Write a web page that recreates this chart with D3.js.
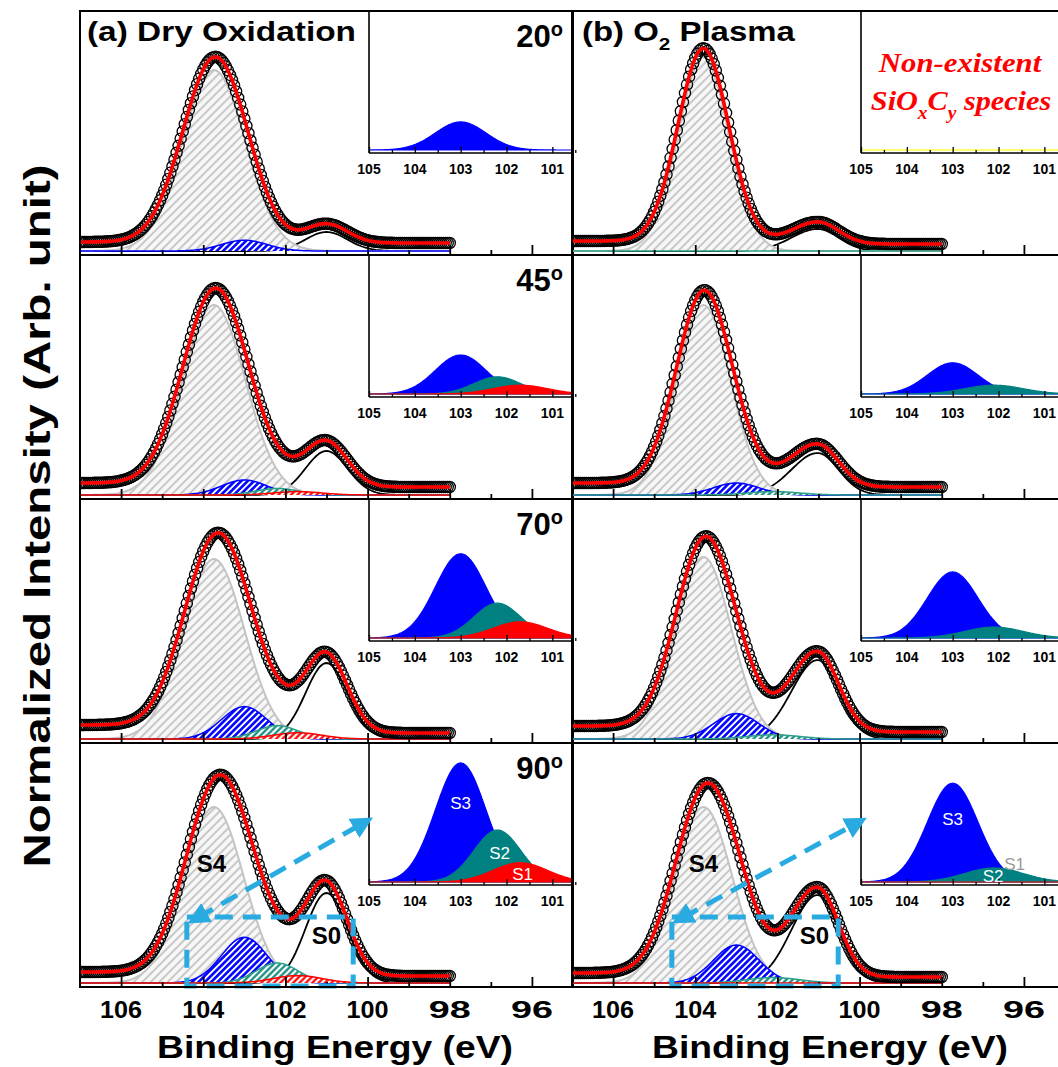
<!DOCTYPE html>
<html>
<head>
<meta charset="utf-8">
<script src="https://cdn.jsdelivr.net/npm/d3@7"></script>
<style>
  html, body { margin: 0; padding: 0; background: #fff; }
  svg { display: block; }
</style>
</head>
<body>
<svg id="chart" width="1058" height="1067"></svg>
<script>
// ---- Si 2p core-level spectra: dry oxidation vs. O2 plasma, four take-off angles ----
const angles = ['20', '45', '70', '90'];
const mainTicks = [106, 105, 104, 103, 102, 101, 100, 99, 98, 97, 96];
const mainTickLabels = [106, 104, 102, 100, 98, 96];
const insetTickLabels = [105, 104, 103, 102, 101];
const insetMinorTicks = [104.5, 103.5, 102.5, 101.5, 100.5];

// fitted peak positions (eV), [dry oxidation, O2 plasma]
const centerS4 = [103.74, 103.8];
const centerS3 = [103.0, 103.0];
const centerS2 = [102.2, 102.1];
const centerS1 = [101.7, 101.7];
const centerS0 = [101.0, 101.02];
// peak widths (FWHM, eV); S0 is asymmetric (high / low binding-energy side)
const fwhmS3 = [1.3, 1.3];
const fwhmS2 = [1.2, 1.5];
const fwhmS1 = [1.4, 1.4];
const fwhmS0High = [1.2, 1.5];
const fwhmS0Low = [1.2, 1.2];

// dry oxidation, rows 20 / 45 / 70 / 90 degrees (null = component absent)
const dryS4 = [0.905, 0.95, 0.90, 0.88];
const dryW4 = [1.8, 1.8, 1.75, 1.7];
const dryS3 = [0.054, 0.075, 0.162, 0.229];
const dryS2 = [null, 0.033, 0.067, 0.10];
const dryS1 = [null, 0.017, 0.031, 0.037];
const dryS0 = [0.095, 0.22, 0.38, 0.45];
const dryBgHigh = [0.045, 0.06, 0.07, 0.055];
const dryBgLow = [0.04, 0.04, 0.03, 0.035];

// O2 plasma, rows 20 / 45 / 70 / 90 degrees
const plasmaS4 = [0.97, 0.95, 0.91, 0.88];
const plasmaW4 = [1.45, 1.55, 1.6, 1.65];
const plasmaS3 = [null, 0.06, 0.127, 0.19];
const plasmaS2 = [0, 0.017, 0.021, 0.027];
const plasmaS1 = [null, null, null, 0];
const plasmaS0 = [0.11, 0.21, 0.395, 0.44];
const plasmaBgHigh = [0.05, 0.06, 0.065, 0.05];
const plasmaBgLow = [0.035, 0.04, 0.035, 0.03];

// component labels in the 90 degree panels: [energy, intensity]
const s4LabelPos = [[103.8, 0.6], [103.8, 0.6]];
const s0LabelPos = [[101.0, 0.24], [101.1, 0.24]];
const insetLabels = [
  [{t: 'S3', e: 103.0, v: 0.152, c: '#ffffff'}, {t: 'S2', e: 102.15, v: 0.056, c: '#ffffff'}, {t: 'S1', e: 101.65, v: 0.015, c: '#ffffff'}],
  [{t: 'S3', e: 103.0, v: 0.121, c: '#ffffff'}, {t: 'S2', e: 102.12, v: 0.012, c: '#ffffff'}, {t: 'S1', e: 101.65, v: 0.034, c: '#9a9a9a'}]
];
// zoom box (eV, intensity) and arrow ends in the 90 degree panels
const zoomBoxE = [[104.4, 100.35], [104.57, 100.52]];
const zoomBoxV = [-0.015, 0.33];
const arrowFrom = [[104.15, 0.325], [104.33, 0.325]];
const arrowTo = [[100.1, 0.8], [100.06, 0.8]];

// ---- layout ----
const svg = d3.select('#chart');
const FONT = "'Liberation Sans', Arial, Helvetica, sans-serif";
const colX = [80, 572];
const panelW = 493;
const rowTop = [11, 255, 499, 743];
const rowH = 244;
const insetOffset = 289;
const insetH = 142;

const columns = [
  {S4: dryS4, W4: dryW4, S3: dryS3, S2: dryS2, S1: dryS1, S0: dryS0, hi: dryBgHigh, lo: dryBgLow},
  {S4: plasmaS4, W4: plasmaW4, S3: plasmaS3, S2: plasmaS2, S1: plasmaS1, S0: plasmaS0, hi: plasmaBgHigh, lo: plasmaBgLow}
];

// Gaussian line shape; optional different width on the low binding-energy side
const gauss = (e, c, h, w, wLow) => {
  const ww = (wLow && e < c) ? wLow : w;
  return h * Math.exp(-4 * Math.LN2 * (e - c) * (e - c) / (ww * ww));
};

// acquisition grid 98 -> 107 eV, 0.05 eV step
const energies = d3.range(0, 181).map(i => 98 + i * 0.05);
const insetEnergies = d3.range(0, 241).map(i => 100.3 + i * 0.02);

function components(c, r) {
  const col = columns[c];
  return {
    S4: col.S4[r] == null ? null : {c: centerS4[c], h: col.S4[r], w: col.W4[r]},
    S3: col.S3[r] == null ? null : {c: centerS3[c], h: col.S3[r], w: fwhmS3[c]},
    S2: col.S2[r] == null ? null : {c: centerS2[c], h: col.S2[r], w: fwhmS2[c]},
    S1: col.S1[r] == null ? null : {c: centerS1[c], h: col.S1[r], w: fwhmS1[c]},
    S0: col.S0[r] == null ? null : {c: centerS0[c], h: col.S0[r], w: fwhmS0High[c], wLow: fwhmS0Low[c]}
  };
}
const evalComp = (p, e) => p ? gauss(e, p.c, p.h, p.w, p.wLow) : 0;

function spectrum(c, r) {
  const comp = components(c, r);
  const names = ['S4', 'S3', 'S2', 'S1', 'S0'];
  const tot = energies.map(e => d3.sum(names, n => evalComp(comp[n], e)));
  // Shirley-type background: rises toward high binding energy with the integrated peak area
  const cum = d3.cumsum(tot);
  const last = cum[cum.length - 1];
  const hi = columns[c].hi[r], lo = columns[c].lo[r];
  return energies.map((e, i) => {
    const bg = lo + (hi - lo) * cum[i] / last;
    return {
      e, bg,
      fit: bg + tot[i],
      S4: evalComp(comp.S4, e), S3: evalComp(comp.S3, e),
      S2: evalComp(comp.S2, e), S1: evalComp(comp.S1, e),
      S0: evalComp(comp.S0, e)
    };
  });
}

// ---- patterns ----
const defs = svg.append('defs');
function hatch(id, color, gap, width, angle, bg) {
  const p = defs.append('pattern').attr('id', id)
    .attr('patternUnits', 'userSpaceOnUse')
    .attr('width', gap).attr('height', gap)
    .attr('patternTransform', `rotate(${angle})`);
  p.append('rect').attr('width', gap).attr('height', gap).attr('fill', bg);
  p.append('line').attr('x1', gap / 2).attr('y1', 0).attr('x2', gap / 2).attr('y2', gap)
    .attr('stroke', color).attr('stroke-width', width);
}
hatch('hGray', '#a9a9a9', 6, 1.2, 45, '#f7f7f7');
hatch('hBlue', '#0000ff', 4.5, 2.6, 45, '#ffffff');
hatch('hTeal', '#0e8a7c', 4.5, 2.2, 45, '#ffffff');
hatch('hRed', '#ff0000', 4.5, 2.2, 45, '#ffffff');

defs.append('marker').attr('id', 'arrowHead')
  .attr('viewBox', '0 0 10 10').attr('refX', 5).attr('refY', 5)
  .attr('markerUnits', 'userSpaceOnUse').attr('markerWidth', 22).attr('markerHeight', 22)
  .attr('orient', 'auto-start-reverse')
  .append('path').attr('d', 'M0,0 L10,5 L0,10 Z').attr('fill', '#29abe2');

const compStyle = {
  S4: {fill: 'url(#hGray)', stroke: '#c4c4c4', sw: 2},
  S3: {fill: 'url(#hBlue)', stroke: '#0000ff', sw: 1.5},
  S2: {fill: 'url(#hTeal)', stroke: '#2a9f86', sw: 1.5},
  S1: {fill: 'url(#hRed)', stroke: '#ff0000', sw: 1.5}
};
const insetFill = {S3: '#0000ff', S2: '#008080', S1: '#ff0000'};

function addText(g, x, y, txt, o) {
  const t = g.append('text').attr('x', x).attr('y', y)
    .attr('font-family', o.family || FONT)
    .attr('font-size', o.size).attr('font-weight', o.weight || 'bold')
    .attr('text-anchor', o.anchor || 'start')
    .attr('fill', o.fill || '#000').text(txt);
  if (o.style) t.attr('font-style', o.style);
  if (o.len) t.attr('textLength', o.len).attr('lengthAdjust', 'spacingAndGlyphs');
  return t;
}

// ---- panels ----
for (let c = 0; c < 2; c++) {
  for (let r = 0; r < 4; r++) {
    const x0 = colX[c], y0 = rowTop[r];
    const g = svg.append('g');
    const clipId = `clip-${c}-${r}`;
    defs.append('clipPath').attr('id', clipId)
      .append('rect').attr('x', x0).attr('y', y0).attr('width', panelW).attr('height', rowH);

    const x = d3.scaleLinear().domain([107, 95]).range([x0, x0 + panelW]);
    const y = d3.scaleLinear().domain([0, 1]).range([y0 + rowH - 4, y0 + rowH - 204]);
    const data = spectrum(c, r);
    const comp = components(c, r);
    const body = g.append('g').attr('clip-path', `url(#${clipId})`);

    // S0 component (drawn first so the hatched S4 area covers its tail)
    body.append('path').datum(data)
      .attr('d', d3.line().x(d => x(d.e)).y(d => y(d.S0)))
      .attr('fill', 'none').attr('stroke', '#000').attr('stroke-width', 1.8);

    // hatched fit components
    ['S4', 'S3', 'S2', 'S1'].forEach(n => {
      if (!comp[n]) return;
      const s = compStyle[n];
      body.append('path').datum(data)
        .attr('d', d3.area().x(d => x(d.e)).y0(y(0)).y1(d => y(d[n])))
        .attr('fill', s.fill).attr('stroke', 'none');
      body.append('path').datum(data)
        .attr('d', d3.line().x(d => x(d.e)).y(d => y(d[n])))
        .attr('fill', 'none').attr('stroke', s.stroke).attr('stroke-width', s.sw);
    });

    // measured points
    body.append('g').selectAll('circle').data(data).join('circle')
      .attr('cx', d => x(d.e)).attr('cy', d => y(d.fit)).attr('r', 5.6)
      .attr('fill', 'none').attr('stroke', '#000').attr('stroke-width', 1.3);

    // envelope
    body.append('path').datum(data)
      .attr('d', d3.line().x(d => x(d.e)).y(d => y(d.fit)))
      .attr('fill', 'none').attr('stroke', '#ff0000').attr('stroke-width', 3.6);

    // bottom ticks (inward)
    const axY = y0 + rowH;
    const major = g.append('g').attr('transform', `translate(0,${axY})`)
      .call(d3.axisBottom(x).tickValues(mainTicks.filter(t => t % 2 === 0)).tickSize(-10).tickFormat(''));
    const minor = g.append('g').attr('transform', `translate(0,${axY})`)
      .call(d3.axisBottom(x).tickValues(mainTicks.filter(t => t % 2 !== 0)).tickSize(-5).tickFormat(''));
    [major, minor].forEach(a => {
      a.select('.domain').remove();
      a.selectAll('line').attr('stroke', '#000').attr('stroke-width', 1.8);
    });

    if (r === 3) {
      mainTickLabels.forEach(v => addText(g, x(v), axY + 31, String(v), {size: 24, anchor: 'middle', len: 42}));
    }

    // ---- inset ----
    const ix0 = x0 + insetOffset;
    const iAx = y0 + insetH;
    const ix = d3.scaleLinear().domain([105, 100.55]).range([ix0, x0 + panelW]);
    const iy = d3.scaleLinear().domain([0, 1]).range([iAx - 3, iAx - 523]);
    const ig = g.append('g');
    const iclip = `iclip-${c}-${r}`;
    defs.append('clipPath').attr('id', iclip)
      .append('rect').attr('x', ix0).attr('y', y0).attr('width', x0 + panelW - ix0).attr('height', insetH);
    ig.append('rect').attr('x', ix0).attr('y', y0).attr('width', x0 + panelW - ix0).attr('height', insetH)
      .attr('fill', '#fff');
    const ib = ig.append('g').attr('clip-path', `url(#${iclip})`);
    const insetComps = ['S3', 'S2', 'S1'].filter(n => comp[n]);
    if (d3.max(insetComps, n => comp[n].h) > 0) {
      insetComps.forEach(n => {
        const p = comp[n];
        const pts = insetEnergies.map(e => ({e, v: evalComp(p, e)}));
        ib.append('path').datum(pts)
          .attr('d', d3.area().x(d => ix(d.e)).y0(iy(0)).y1(d => iy(d.v)))
          .attr('fill', insetFill[n]).attr('stroke', insetFill[n]).attr('stroke-width', 1.2);
      });
    } else {
      // no sub-oxide species: empty baseline
      ib.append('line').attr('x1', ix0).attr('x2', x0 + panelW).attr('y1', iy(0)).attr('y2', iy(0))
        .attr('stroke', '#ffff70').attr('stroke-width', 2);
    }
    const iMaj = ig.append('g').attr('transform', `translate(0,${iAx})`)
      .call(d3.axisBottom(ix).tickValues(insetTickLabels).tickSize(-6).tickFormat(''));
    const iMin = ig.append('g').attr('transform', `translate(0,${iAx})`)
      .call(d3.axisBottom(ix).tickValues(insetMinorTicks).tickSize(-3).tickFormat(''));
    [iMaj, iMin].forEach(a => {
      a.select('.domain').remove();
      a.selectAll('line').attr('stroke', '#000').attr('stroke-width', 1.3);
    });
    ig.append('line').attr('x1', ix0).attr('x2', x0 + panelW).attr('y1', iAx).attr('y2', iAx)
      .attr('stroke', '#000').attr('stroke-width', 1.6);
    ig.append('line').attr('x1', ix0).attr('x2', ix0).attr('y1', y0).attr('y2', iAx)
      .attr('stroke', '#000').attr('stroke-width', 1.6);
    insetTickLabels.forEach(v => addText(ig, ix(v), iAx + 21, String(v), {size: 14, anchor: 'middle'}));

    // angle label
    if (c === 0) {
      const t = addText(g, x0 + panelW - 10, y0 + 36, angles[r], {size: 31, anchor: 'end'});
      t.append('tspan').attr('font-size', 20).attr('dy', -11).text('o');
    }

    // 90 degree annotations
    if (r === 3) {
      const lg = g.append('g');
      insetLabels[c].forEach(l => {
        addText(lg, ix(l.e), iy(l.v) + 6, l.t, {size: 17, weight: 'normal', anchor: 'middle', fill: l.c,
          family: "'Liberation Sans Narrow', 'Arial Narrow', sans-serif"});
      });
      addText(lg, x(s4LabelPos[c][0]), y(s4LabelPos[c][1]) + 9, 'S4', {size: 24, anchor: 'middle'});
      addText(lg, x(s0LabelPos[c][0]), y(s0LabelPos[c][1]) + 9, 'S0', {size: 24, anchor: 'middle'});

      const bx0 = x(zoomBoxE[c][0]), bx1 = x(zoomBoxE[c][1]);
      const by0 = y(zoomBoxV[1]), by1 = y(zoomBoxV[0]);
      lg.append('rect').attr('x', bx0).attr('y', by0).attr('width', bx1 - bx0).attr('height', by1 - by0)
        .attr('fill', 'none').attr('stroke', '#29abe2').attr('stroke-width', 5)
        .attr('stroke-dasharray', '18,10');
      lg.append('line')
        .attr('x1', x(arrowFrom[c][0])).attr('y1', y(arrowFrom[c][1]))
        .attr('x2', x(arrowTo[c][0])).attr('y2', y(arrowTo[c][1]))
        .attr('stroke', '#29abe2').attr('stroke-width', 5).attr('stroke-dasharray', '18,10')
        .attr('marker-start', 'url(#arrowHead)').attr('marker-end', 'url(#arrowHead)');
    }

    // frame
    g.append('rect').attr('x', x0).attr('y', y0).attr('width', panelW).attr('height', rowH)
      .attr('fill', 'none').attr('stroke', '#000').attr('stroke-width', 2);
  }
}

// ---- titles ----
addText(svg, 87, 41, '(a) Dry Oxidation', {size: 27, len: 269});
{
  const g = svg.append('g').attr('transform', 'translate(582,41) scale(1.22,1)');
  const t = g.append('text').attr('x', 0).attr('y', 0).attr('font-family', FONT)
    .attr('font-size', 27).attr('font-weight', 'bold');
  t.append('tspan').text('(b) O');
  t.append('tspan').attr('font-size', 17).attr('dy', 9).text('2');
  t.append('tspan').attr('dy', -9).text(' Plasma');
}
{
  const serif = "'Liberation Serif', 'Times New Roman', serif";
  const g1 = svg.append('g').attr('transform', 'translate(960,72) scale(1.1,1)');
  g1.append('text').attr('text-anchor', 'middle').attr('font-family', serif)
    .attr('font-size', 28).attr('font-weight', 'bold').attr('font-style', 'italic')
    .attr('fill', '#ff0000').text('Non-existent');
  const g2 = svg.append('g').attr('transform', 'translate(961,110) scale(1.08,1)');
  const t = g2.append('text').attr('text-anchor', 'middle').attr('font-family', serif)
    .attr('font-size', 28).attr('font-weight', 'bold').attr('font-style', 'italic')
    .attr('fill', '#ff0000');
  t.append('tspan').text('SiO');
  t.append('tspan').attr('font-size', 18).attr('dy', 9).text('x');
  t.append('tspan').attr('dy', -9).text('C');
  t.append('tspan').attr('font-size', 18).attr('dy', 9).text('y');
  t.append('tspan').attr('dy', -9).text(' species');
}

// axis titles
addText(svg, 335, 1058, 'Binding Energy (eV)', {size: 31, anchor: 'middle', len: 356});
addText(svg, 830, 1058, 'Binding Energy (eV)', {size: 31, anchor: 'middle', len: 356});
svg.append('text')
  .attr('transform', 'translate(50,516) rotate(-90)')
  .attr('text-anchor', 'middle').attr('font-family', FONT)
  .attr('font-size', 36).attr('font-weight', 'bold')
  .attr('textLength', 703).attr('lengthAdjust', 'spacingAndGlyphs')
  .text('Normalized Intensity (Arb. unit)');
</script>
</body>
</html>
